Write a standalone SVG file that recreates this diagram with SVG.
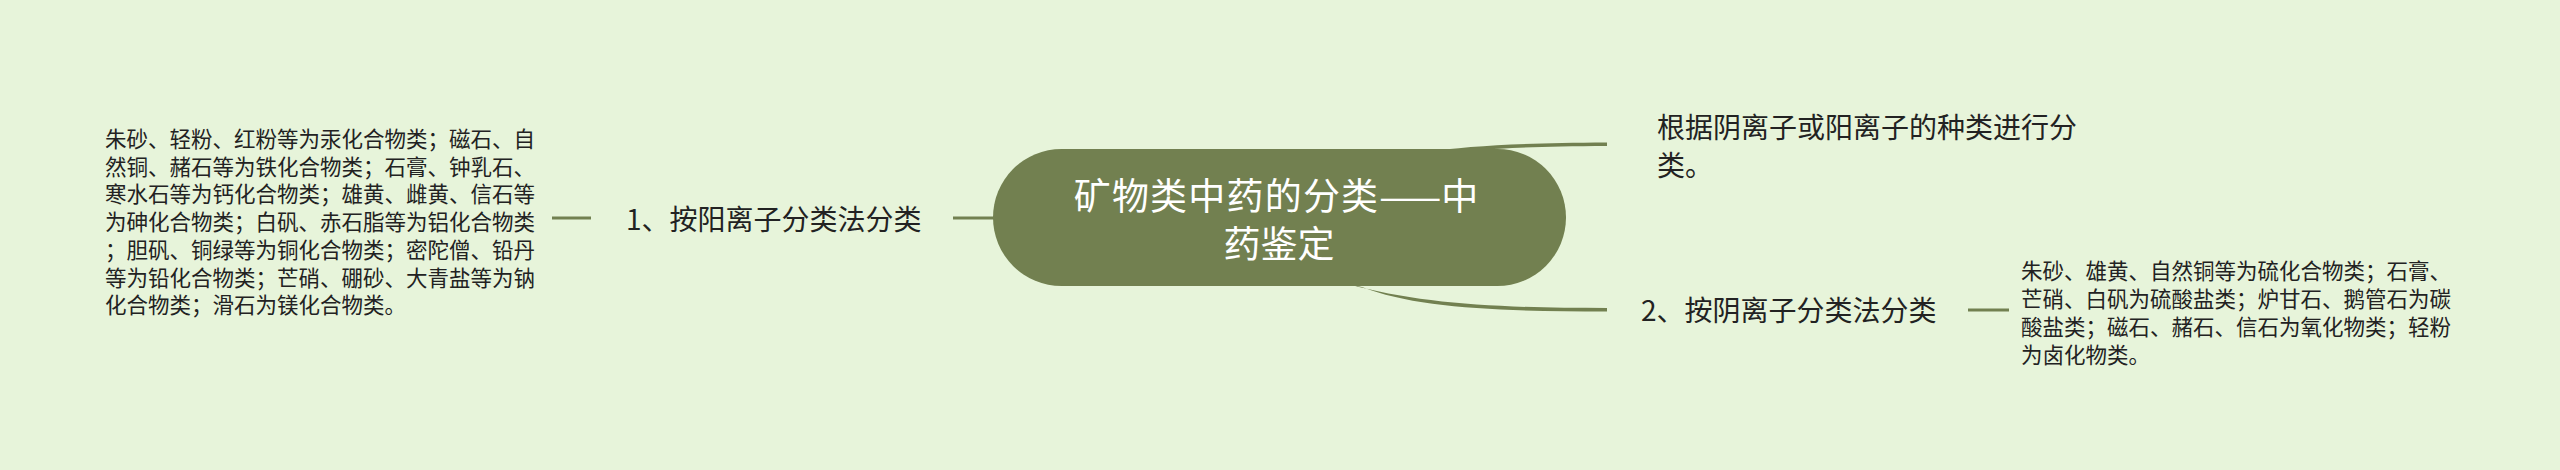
<svg xmlns="http://www.w3.org/2000/svg" width="2560" height="470" viewBox="0 0 2560 470">
<style>
.bg{fill:#e7f4da}
.ln{stroke:#728050;stroke-width:3;fill:none}
.cv{fill:#728050}
.t{font-family:"Noto Sans CJK SC","Noto Sans",sans-serif;fill:#222;dominant-baseline:central}
.small{font-size:21.5px}
.mid{font-size:28px}
.title{font-size:37px;fill:#ffffff;text-anchor:middle}
</style>
<rect class="bg" x="0" y="0" width="2560" height="470"/>
<g id="connectors">
<line class="ln" x1="552" y1="218" x2="591" y2="218"/>
<line class="ln" x1="953" y1="218" x2="998" y2="218"/>
<path class="cv" d="M1425,152 C1470,146 1520,143 1607,142.5 L1607,146 C1520,146.5 1475,149 1440,154 Z"/>
<path class="cv" d="M1348,284 C1420,304 1500,308 1607,308 L1607,311.5 C1500,311.5 1415,308 1362,287 Z"/>
<line class="ln" x1="1968" y1="310" x2="2009" y2="310"/>
</g>
<g id="root">
<rect x="993" y="149" width="573" height="137" rx="68.5" ry="68.5" fill="#728050"/>
<text class="t title" x="1276" y="194"><tspan letter-spacing="1.2">矿物类中药的分类</tspan>——中<tspan x="1279" y="242">药鉴定</tspan></text>
</g>
<g id="n1">
<text class="t mid" x="626" y="218">1、按阳离子分类法分类</text>
</g>
<g id="n1a">
<text class="t small" x="105">
<tspan x="105" y="137">朱砂、轻粉、红粉等为汞化合物类；磁石、自</tspan>
<tspan x="105" y="164.7">然铜、赭石等为铁化合物类；石膏、钟乳石、</tspan>
<tspan x="105" y="192.4">寒水石等为钙化合物类；雄黄、雌黄、信石等</tspan>
<tspan x="105" y="220.1">为砷化合物类；白矾、赤石脂等为铝化合物类</tspan>
<tspan x="105" y="247.8">；胆矾、铜绿等为铜化合物类；密陀僧、铅丹</tspan>
<tspan x="105" y="275.5">等为铅化合物类；芒硝、硼砂、大青盐等为钠</tspan>
<tspan x="105" y="303.2">化合物类；滑石为镁化合物类。</tspan>
</text>
</g>
<g id="n2">
<text class="t mid" x="1657">
<tspan x="1657" y="126">根据阴离子或阳离子的种类进行分</tspan>
<tspan x="1657" y="164">类。</tspan>
</text>
</g>
<g id="n3">
<text class="t mid" x="1641" y="309">2、按阴离子分类法分类</text>
</g>
<g id="n3a">
<text class="t small" x="2021">
<tspan x="2021" y="269">朱砂、雄黄、自然铜等为硫化合物类；石膏、</tspan>
<tspan x="2021" y="297">芒硝、白矾为硫酸盐类；炉甘石、鹅管石为碳</tspan>
<tspan x="2021" y="325">酸盐类；磁石、赭石、信石为氧化物类；轻粉</tspan>
<tspan x="2021" y="353">为卤化物类。</tspan>
</text>
</g>
</svg>
